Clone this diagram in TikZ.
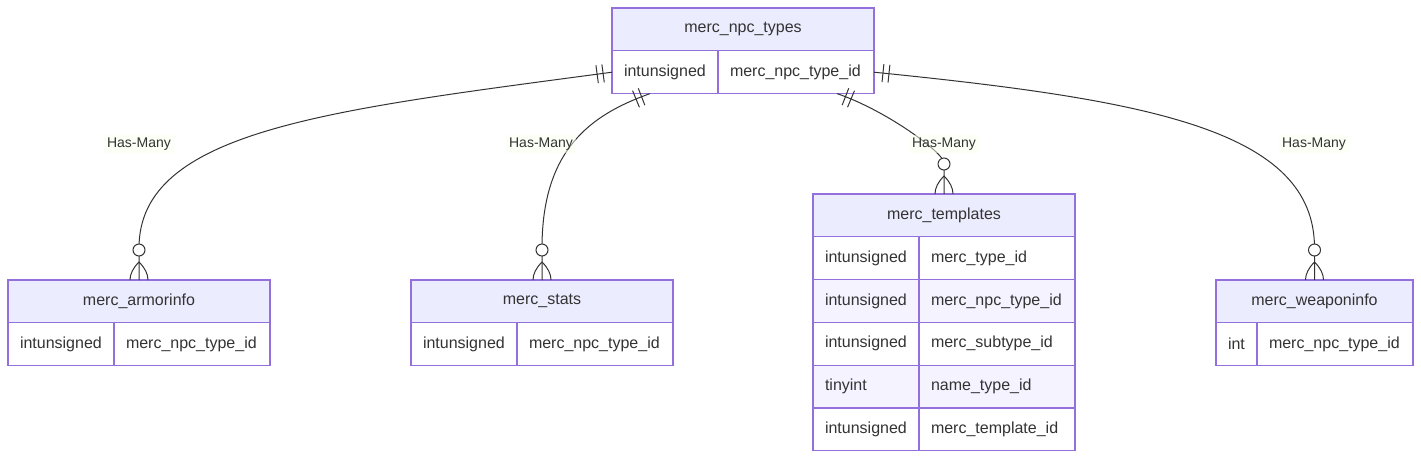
\documentclass[tikz,border=0pt]{standalone}
\usepackage{fontspec}
\setmainfont{Liberation Sans}
\usetikzlibrary{decorations.markings}
\definecolor{hdfill}{HTML}{ECECFF}
\definecolor{tblline}{HTML}{9370DB}
\definecolor{txtc}{HTML}{333333}
\definecolor{rowtint}{HTML}{F5F3FF}
\definecolor{lblbg}{HTML}{F8FFEB}
\tikzset{
  hd/.style={draw=tblline,fill=hdfill,line width=1.2pt,text=txtc,anchor=north west,
    inner sep=0pt,outer sep=0pt,minimum height=42.8pt,font=\fontsize{16}{19}\selectfont},
  cell/.style={draw=tblline,fill=white,line width=1.2pt,text=txtc,anchor=north west,
    inner xsep=12pt,inner ysep=0pt,outer sep=0pt,minimum height=42.8pt,align=left,
    font=\fontsize{16}{19}\selectfont},
  ty/.style={cell,text width=82pt},
  nm/.style={cell,text width=132pt},
  even/.style={fill=rowtint},
  lbl/.style={fill=lblbg,fill opacity=0.5,text opacity=1,text=txtc,inner sep=3pt,
    font=\fontsize{14}{17}\selectfont},
  mk/.style={draw=txtc,line width=1pt},
  rel/.style={draw=txtc,line width=1pt,postaction={decorate},
    decoration={markings,
      mark=at position 9pt with {\draw[mk] (0,-9pt) -- (0,9pt);},
      mark=at position 15pt with {\draw[mk] (0,-9pt) -- (0,9pt);},
      mark=at position -30pt with {\draw[mk,fill=white] (0,0) circle (6pt);},
      mark=at position -18pt with {\draw[mk] (18pt,9pt) .. controls (12pt,9pt) and (6pt,6pt) .. (0,0)
        .. controls (6pt,-6pt) and (12pt,-9pt) .. (18pt,-9pt);}}},
}
\begin{document}
\begin{tikzpicture}[x=1pt,y=-1pt]
\useasboundingbox (0,0) rectangle (1421,459);
% merc_npc_types
\node[hd,minimum width=262pt] (npcH) at (612,8) {merc\_npc\_types};
\node[ty] (npcT1) at (npcH.south west) {intunsigned};
\node[nm] (npcN1) at (npcT1.north east) {merc\_npc\_type\_id};
% merc_armorinfo
\node[hd,minimum width=262pt] (armH) at (8,280) {merc\_armorinfo};
\node[ty] (armT1) at (armH.south west) {intunsigned};
\node[nm] (armN1) at (armT1.north east) {merc\_npc\_type\_id};
% merc_stats
\node[hd,minimum width=262pt] (stH) at (411,280) {merc\_stats};
\node[ty] (stT1) at (stH.south west) {intunsigned};
\node[nm] (stN1) at (stT1.north east) {merc\_npc\_type\_id};
% merc_templates
\node[hd,minimum width=262pt] (tplH) at (813,194) {merc\_templates};
\node[ty] (tplT1) at (tplH.south west) {intunsigned};
\node[nm] (tplN1) at (tplT1.north east) {merc\_type\_id};
\node[ty,even] (tplT2) at (tplT1.south west) {intunsigned};
\node[nm,even] (tplN2) at (tplT2.north east) {merc\_npc\_type\_id};
\node[ty] (tplT3) at (tplT2.south west) {intunsigned};
\node[nm] (tplN3) at (tplT3.north east) {merc\_subtype\_id};
\node[ty,even] (tplT4) at (tplT3.south west) {tinyint};
\node[nm,even] (tplN4) at (tplT4.north east) {name\_type\_id};
\node[ty] (tplT5) at (tplT4.south west) {intunsigned};
\node[nm] (tplN5) at (tplT5.north east) {merc\_template\_id};
% merc_weaponinfo
\node[hd,minimum width=197pt] (wpnH) at (1216,280) {merc\_weaponinfo};
\node[ty,text width=17pt] (wpnT1) at (wpnH.south west) {int};
\node[nm] (wpnN1) at (wpnT1.north east) {merc\_npc\_type\_id};
% relations (curve, then a straight run into the child table)
\draw[rel] (npcT1.west) .. controls (330,110) and (139,130) .. ([yshift=32pt]armH.north) -- (armH.north);
\draw[rel] ([xshift=-15pt]npcT1.south) .. controls (590,115) and (542,150) .. ([yshift=32pt]stH.north) -- (stH.north);
\draw[rel] ([xshift=41pt]npcN1.south) .. controls (885,110) and (940,150) .. ([yshift=32pt]tplH.north) -- (tplH.north);
\draw[rel] (npcN1.east) .. controls (1150,100) and (1314.5,130) .. ([yshift=32pt]wpnH.north) -- (wpnH.north);
\node[lbl] (lbl1) at (139,144) {Has-Many};
\node[lbl] (lbl2) at (541,144) {Has-Many};
\node[lbl] (lbl3) at (944,144) {Has-Many};
\node[lbl] (lbl4) at (1314,144) {Has-Many};
\end{tikzpicture}
\end{document}
